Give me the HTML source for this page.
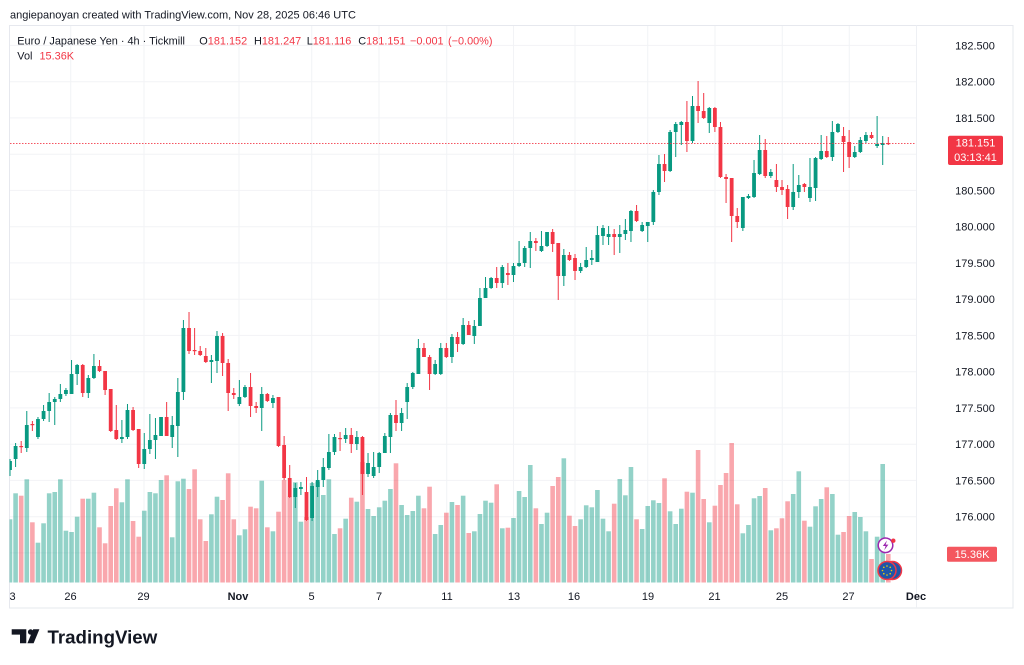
<!DOCTYPE html>
<html><head><meta charset="utf-8">
<style>
html,body{margin:0;padding:0;background:#fff;width:1024px;height:665px;overflow:hidden}
svg{position:absolute;left:0;top:0;font-family:"Liberation Sans",Arial,sans-serif}
</style></head>
<body>
<svg id="s" width="1024" height="665" viewBox="0 0 1024 665" xmlns="http://www.w3.org/2000/svg">
<defs><clipPath id="cp"><rect x="9.5" y="25.5" width="906.5" height="557.5"/></clipPath></defs>
<rect x="0" y="0" width="1024" height="665" fill="#fff"/>
<!-- frame -->
<rect x="9.5" y="25.5" width="1003.5" height="582.5" fill="none" stroke="#e6e8ee" stroke-width="1"/>
<line x1="916.5" y1="25.5" x2="916.5" y2="608" stroke="#eef0f4" stroke-width="1"/>
<g id="grid" stroke="#f2f3f6" stroke-width="1"></g>
<g id="vol" clip-path="url(#cp)"></g>
<g id="cnd" clip-path="url(#cp)"></g>
<line x1="10" y1="143.5" x2="916" y2="143.5" stroke="#f23645" stroke-opacity="0.85" stroke-width="1" stroke-dasharray="1.5 1.5"/>

<!-- header -->
<text x="10" y="18.5" font-size="11" fill="#131722">angiepanoyan created with TradingView.com, Nov 28, 2025 06:46 UTC</text>
<g font-size="10.9">
<text x="17.3" y="44.3" fill="#131722">Euro / Japanese Yen · 4h · Tickmill</text>
<text x="199.3" y="44.3" fill="#131722">O<tspan fill="#f23645">181.152</tspan></text>
<text x="254" y="44.3" fill="#131722">H<tspan fill="#f23645">181.247</tspan></text>
<text x="306.7" y="44.3" fill="#131722">L<tspan fill="#f23645">181.116</tspan></text>
<text x="358.3" y="44.3" fill="#131722">C<tspan fill="#f23645">181.151</tspan></text>
<text x="410" y="44.3" fill="#f23645">−0.001</text>
<text x="448" y="44.3" fill="#f23645">(−0.00%)</text>
<text x="17.3" y="59.5" fill="#131722">Vol</text>
<text x="39.5" y="59.5" fill="#f23645">15.36K</text>
</g>

<!-- price axis -->
<g font-size="11" fill="#131722" text-anchor="middle">
<text x="975" y="49.4">182.500</text>
<text x="975" y="85.7">182.000</text>
<text x="975" y="121.9">181.500</text>
<text x="975" y="194.4">180.500</text>
<text x="975" y="230.7">180.000</text>
<text x="975" y="266.9">179.500</text>
<text x="975" y="303.2">179.000</text>
<text x="975" y="339.4">178.500</text>
<text x="975" y="375.7">178.000</text>
<text x="975" y="411.9">177.500</text>
<text x="975" y="448.2">177.000</text>
<text x="975" y="484.4">176.500</text>
<text x="975" y="520.7">176.000</text>
</g>
<rect x="948" y="135.7" width="55" height="29.3" rx="2" fill="#f23645"/>
<g font-size="11" fill="#fff" text-anchor="middle">
<text x="975.5" y="146.7">181.151</text>
<text x="975.5" y="161">03:13:41</text>
</g>
<rect x="947" y="546.7" width="50" height="15" rx="1.5" fill="#f4575f"/>
<text x="972" y="558" font-size="11" fill="#fff" text-anchor="middle">15.36K</text>

<!-- time axis -->
<g font-size="11" fill="#131722" text-anchor="middle">
<text x="12.5" y="600">3</text>
<text x="70.5" y="600">26</text>
<text x="143.5" y="600">29</text>
<text x="238" y="600" font-weight="bold">Nov</text>
<text x="311.5" y="600">5</text>
<text x="379" y="600">7</text>
<text x="447" y="600">11</text>
<text x="514" y="600">13</text>
<text x="574" y="600">16</text>
<text x="648" y="600">19</text>
<text x="714.5" y="600">21</text>
<text x="782" y="600">25</text>
<text x="848.5" y="600">27</text>
<text x="916" y="600" font-weight="bold">Dec</text>
</g>

<!-- icons -->
<circle cx="885.5" cy="545.3" r="7.3" fill="#fff" stroke="#9c27b0" stroke-width="1.5"/>
<path d="M887 540.5 L882.8 546 H885.6 L884.2 550.2 L888.4 544.6 H885.6 Z" fill="#9c27b0"/>
<circle cx="893.3" cy="540.7" r="2.2" fill="#f23645"/>
<circle cx="892.5" cy="570.5" r="9" fill="#1f56a8" stroke="#f23645" stroke-width="1.5"/>
<circle cx="887" cy="570.5" r="9" fill="#1f56a8" stroke="#f23645" stroke-width="1.5"/>
<g fill="#f5d000">
<circle cx="887" cy="566" r="0.8"/><circle cx="890.2" cy="567.3" r="0.8"/><circle cx="891.5" cy="570.5" r="0.8"/><circle cx="890.2" cy="573.7" r="0.8"/><circle cx="887" cy="575" r="0.8"/><circle cx="883.8" cy="573.7" r="0.8"/><circle cx="882.5" cy="570.5" r="0.8"/><circle cx="883.8" cy="567.3" r="0.8"/>
</g>

<!-- logo -->
<g fill="#131722">
<path d="M11.7 629.3 H26.3 V643.3 H20 V634.6 H11.7 Z"/>
<circle cx="30.6" cy="632" r="2.7"/>
<path d="M33.2 629.3 H39.4 L33.6 643.3 H27.4 Z"/>
</g>
<text x="47.5" y="643.3" font-size="18.7" font-weight="bold" fill="#131722">TradingView</text>
</svg>
<script>
(function(){
var NS="http://www.w3.org/2000/svg";
function el(p,t,a){var e=document.createElementNS(NS,t);for(var k in a)e.setAttribute(k,a[k]);p.appendChild(e);return e;}
var grid=document.getElementById('grid');
var hy=[45.4,81.7,117.9,154.2,190.4,226.7,262.9,299.2,335.4,371.7,407.9,444.2,480.4,516.7,552.9];
hy.forEach(function(y){el(grid,'line',{x1:10,y1:y,x2:916,y2:y});});
var vx=[70.7,144,239,311.7,379,446.7,513.5,575,647.7,715,782.3,849.3];
vx.forEach(function(x){el(grid,'line',{x1:x,y1:26,x2:x,y2:583});});
var D=[
['g',461,470,459,476],['g',446,459,443,467],['r',446,447,441,453],['g',425,448,411,452],['r',424,425,421,431],
['g',419,437,417,439],['g',411,419,405,421],['g',402,411,393,422],['g',399,402,397,425],['g',394,399,384,402],
['g',390,394,388,396],['g',374,394,360,394],['g',365,374,364,385],['r',365,393,364,397],['g',378,393,375,398],
['g',366,378,354,379],['r',366,371,360,372],['r',371,390,371,395],['r',389,431,389,432],['r',430,439,405,440],
['g',437,439,420,443],['g',410,437,404,439],['r',410,430,407,431],['r',429,464,429,468],['g',449,464,433,469],
['g',440,449,414,454],['g',435,440,418,459],['g',417,436,417,436],['r',417,436,402,436],['g',425,437,416,448],
['g',392,426,378,457],['g',328,392,320,400],['r',328,351,312,354],['r',350,351,328,355],['r',351,355,346,356],
['r',356,362,348,363],['g',360,362,355,383],['g',336,361,331,373],['r',336,363,333,376],['r',363,393,359,411],
['r',393,395,388,399],['g',397,404,380,406],['g',387,397,385,398],['r',387,406,373,417],['r',406,408,402,413],
['g',394,408,387,431],['r',394,401,393,402],['g',398,403,395,408],['r',397,446,397,447],['r',445,478,436,480],
['r',478,497,465,498],['g',488,497,483,508],
['g',487,489,482,495],['r',492,520,477,521],['g',486,518,482,521],['g',480,487,470,497],['g',467,480,458,487],
['g',452,468,434,470],['g',437,452,434,455],['r',438,439,432,451],['g',435,439,428,443],['r',435,444,428,453],
['g',437,444,431,450],['r',437,474,436,495],['g',463,474,453,477],['g',467,476,452,478],['g',453,467,452,473],
['g',436,453,433,453],['g',415,437,413,453],['r',415,423,400,431],['g',413,423,408,431],['g',387,402,383,419],
['g',373,387,372,389],['g',348,374,339,374],['r',348,357,343,357],['r',357,374,355,390],['g',364,374,360,375],
['g',348,374,343,375],['r',348,357,343,358],['g',337,357,334,363],['r',337,344,332,352],['g',325,344,318,345],
['r',325,335,321,335],['g',326,336,320,344],['g',298,326,288,326],['g',288,298,277,298],['g',278,288,277,289],
['r',278,283,267,288],['g',267,283,265,288],['r',273,275,263,285],['g',266,275,263,282],['g',263,266,241,267],
['g',248,263,246,267],['g',241,248,232,268],['r',241,243,238,251],['g',246,251,231,252],['g',232,246,232,247],
['r',232,244,229,252],['r',243,276,243,300],['g',255,276,249,286],['r',255,260,252,261],['r',258,271,254,280],
['g',267,271,263,273],['g',260,267,247,268],['g',258,260,250,265],
['g',235,262,226,262],['g',228,236,225,245],['g',234,237,226,245],['r',234,237,229,255],['g',234,237,225,253],
['g',230,234,219,240],['g',211,231,210,242],['r',211,221,205,222],['g',225,231,222,232],['g',222,226,222,242],
['g',192,222,190,225],['g',164,192,155,195],['r',164,171,154,182],['g',132,171,130,172],['g',124,132,122,157],
['g',122,125,121,145],['r',122,141,101,152],['g',106,141,96,143],['r',106,111,81,123],['r',111,118,93,119],
['g',108,123,107,133],['r',108,127,107,132],['r',127,177,122,178],['r',177,179,174,203],['r',178,216,178,242],
['r',216,222,208,228],['g',197,228,197,231],['g',196,198,194,199],['g',173,197,160,198],['g',150,174,135,175],
['r',150,176,139,178],['g',172,176,169,178],['r',180,187,164,192],['r',187,190,180,195],['r',189,207,185,219],
['g',192,207,164,210],['g',185,192,175,198],['r',184,187,183,192],['g',187,198,158,202],['g',158,188,157,201],
['g',151,159,135,160],['r',151,157,136,158],['g',132,157,121,161],['g',124,132,123,133],['r',136,142,127,172],
['r',142,157,130,168],['g',152,157,146,158],['g',140,152,137,153],['g',135,141,132,143],['r',135,138,132,139],
['g',144,146,116,148],['g',143,145,136,165],['r',143,144,137,145]
];
var V=[519.3,493.3,495.7,479.3,522.3,542.7,523.3,493.3,492,479.3,530.7,532,516.7,498.7,498.7,492.7,527.3,543.3,506,488.3,
502.3,479.3,521,536.7,510.7,492,493.3,480,475.3,537.3,481.3,478.7,489,469.3,519.3,541,514.3,496.7,500,473.3,
519.3,535.3,529.3,506.7,508.3,480.7,527.3,531.3,511.7,480,496.7,482.3,
521.7,517,483,481.7,495,479.3,534,528.3,518.7,497.7,501.7,462,509,516,507.3,500.7,489,463.3,505,515,511,495.7,
508.3,486.7,534,525,512.7,502,505,495.7,533,531.3,514,500.7,502.7,484.3,528.3,527.7,518,491,497,465,508.3,524,
512.7,486,477,458.3,515.7,526,519.3,505.3,507.3,
490,518.7,531.3,503.7,479,495.3,467,519.3,529,506,500.3,503,478.3,511.3,524,508.7,491.7,492.7,450,499,522.3,
505.7,485,473,443,504.3,533.3,525,498.3,496,488,530.3,528.3,518.3,501.3,494,471.3,520.7,526.7,506.3,499,487.3,
494,534.7,532,516,512,517,531.3,559,536.7,464,554];
var vol=document.getElementById('vol'),cnd=document.getElementById('cnd');
var G='#089981',R='#f23645';
var base=582.5,step=878.3/157;
for(var i=0;i<D.length;i++){
  var d=D[i],x=10+i*step,c=d[0]=='g'?G:R;
  var vt=V[i];
  if(vt!==undefined) el(vol,'rect',{x:(x-2.3).toFixed(2),y:vt,width:4.6,height:(base-vt).toFixed(2),fill:c,'fill-opacity':0.44});
  el(cnd,'rect',{x:(x-0.5).toFixed(2),y:d[3],width:1,height:Math.max(1,d[4]-d[3]),fill:c});
  var bt=d[1],bb=d[2];if(bb-bt<1.2){bb=bt+1.2;}
  el(cnd,'rect',{x:(x-1.9).toFixed(2),y:bt,width:3.8,height:(bb-bt).toFixed(2),fill:c});
}
})();
</script>
</body></html>
